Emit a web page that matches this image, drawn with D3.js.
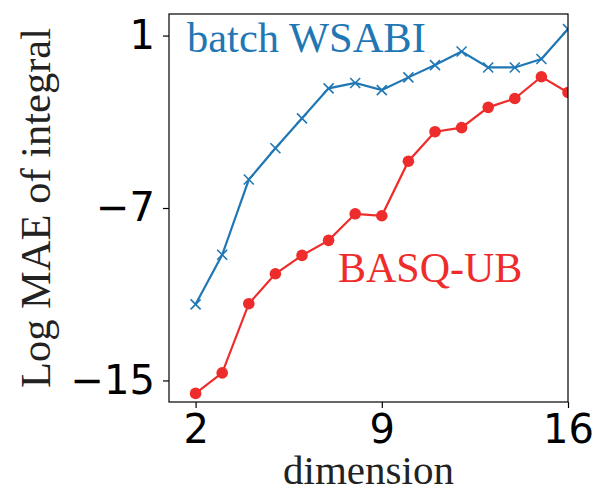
<!DOCTYPE html>
<html><head><meta charset="utf-8">
<script src="https://cdn.jsdelivr.net/npm/d3@7"></script>
<style>body{margin:0;background:#fff}</style>
</head><body><svg id="c" width="598" height="493"></svg>
<script>
const dims = [2,3,4,5,6,7,8,9,10,11,12,13,14,15,16];
const wsabi = [-11.47,-9.17,-5.68,-4.23,-2.84,-1.45,-1.2,-1.53,-0.94,-0.37,0.26,-0.48,-0.48,-0.09,1.3];
const basq = [-15.6,-14.65,-11.44,-10.05,-9.2,-8.5,-7.27,-7.36,-4.83,-3.46,-3.27,-2.33,-1.92,-0.91,-1.64];
const xTicks = [2,9,16];
const yTicks = [1,-7,-15];

const svg = d3.select("#c");
const L=169, R=568, T=14, B=402;
const x = d3.scaleLinear().domain([1,16]).range([L,R]);
const y = d3.scaleLinear().domain([-16,2]).range([B,T]);
const blue="#1f77b4", red="#ee2c2c";

svg.append("defs").append("clipPath").attr("id","clip")
  .append("rect").attr("x",L).attr("y",T).attr("width",R-L).attr("height",B-T);

const g = svg.append("g").attr("clip-path","url(#clip)");
const line = d3.line().x((d,i)=>x(dims[i])).y(d=>y(d));

g.append("path").datum(basq).attr("d",line).attr("fill","none").attr("stroke",red).attr("stroke-width",2.2);
g.selectAll("circle.r").data(basq).join("circle").attr("cx",(d,i)=>x(dims[i])).attr("cy",d=>y(d)).attr("r",5.8).attr("fill",red);

g.append("path").datum(wsabi).attr("d",line).attr("fill","none").attr("stroke",blue).attr("stroke-width",2.2);
const s=5;
g.selectAll("path.xm").data(wsabi).join("path").attr("class","xm")
  .attr("d",(d,i)=>{const cx=x(dims[i]),cy=y(d);return `M${cx-s},${cy-s}L${cx+s},${cy+s}M${cx-s},${cy+s}L${cx+s},${cy-s}`;})
  .attr("stroke",blue).attr("stroke-width",1.6).attr("fill","none");

// frame
svg.append("rect").attr("x",L).attr("y",T).attr("width",R-L).attr("height",B-T).attr("fill","none").attr("stroke","#000").attr("stroke-width",1.2);

const xa = svg.append("g").attr("transform",`translate(0,${B})`)
  .call(d3.axisBottom(x).tickValues(xTicks).tickSize(6).tickPadding(7).tickFormat(d3.format("d")));
const ya = svg.append("g").attr("transform",`translate(${L},0)`)
  .call(d3.axisLeft(y).tickValues(yTicks).tickSize(6).tickPadding(8).tickFormat(d=>d<0?"\u2212"+Math.abs(d):d));
[xa,ya].forEach(a=>{a.select(".domain").remove();
  a.selectAll("line").attr("stroke","#000").attr("stroke-width",1.2);
  a.selectAll("text").attr("font-family","DejaVu Sans").attr("font-size",40).attr("fill","#000");});

svg.append("text").attr("x",(L+R)/2).attr("y",484).attr("text-anchor","middle")
  .attr("font-family","Liberation Serif").attr("font-size",41).attr("fill","#222").text("dimension");
svg.append("text").attr("transform",`translate(50,${(T+B)/2}) rotate(-90)`).attr("text-anchor","middle")
  .attr("font-family","Liberation Serif").attr("font-size",42.5).attr("fill","#222").text("Log MAE of integral");

svg.append("text").attr("x",187).attr("y",52).attr("font-family","Liberation Serif").attr("font-size",42.5).attr("fill",blue).text("batch WSABI");
svg.append("text").attr("x",338).attr("y",282).attr("font-family","Liberation Serif").attr("font-size",42).attr("fill",red).text("BASQ-UB");
</script></body></html>
